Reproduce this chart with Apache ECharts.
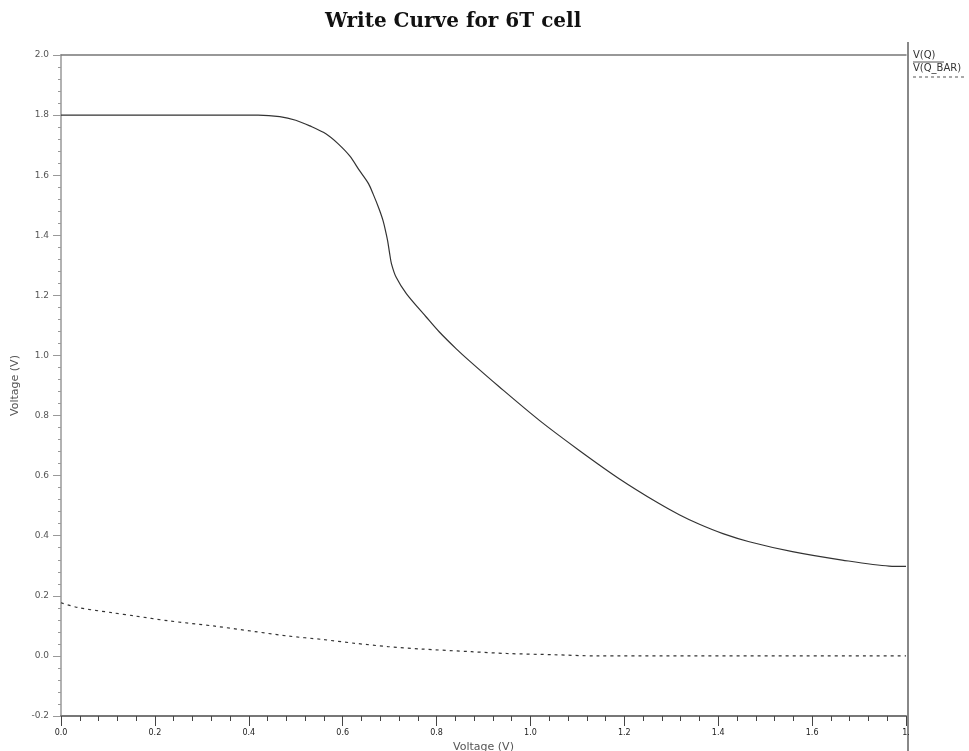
<!DOCTYPE html>
<html>
<head>
<meta charset="utf-8">
<title>Write Curve for 6T cell</title>
<script src="https://cdn.jsdelivr.net/npm/echarts@6/dist/echarts.min.js"></script>
<style>
  html, body { margin: 0; padding: 0; background: #fff; }
  #chart { width: 969px; height: 751px; }
</style>
</head>
<body>
<div id="chart"></div>
<script>
// V(Q) - solid curve
const vqX = [0.0, 0.42, 0.466, 0.50, 0.53, 0.565, 0.59, 0.615, 0.636, 0.655, 0.665, 0.677, 0.686, 0.692,
  0.696, 0.700, 0.704, 0.714, 0.736, 0.778, 0.806, 0.842, 0.870, 0.934, 1.019, 1.104, 1.189, 1.274,
  1.317, 1.36, 1.41, 1.466, 1.558, 1.664, 1.764, 1.80];
const vqY = [1.80, 1.80, 1.795, 1.783, 1.764, 1.737, 1.705, 1.664, 1.615, 1.572, 1.537, 1.49, 1.449, 1.41,
  1.38, 1.34, 1.305, 1.26, 1.205, 1.128, 1.078, 1.022, 0.982, 0.895, 0.784, 0.684, 0.590, 0.507,
  0.470, 0.438, 0.407, 0.380, 0.347, 0.319, 0.299, 0.298];

// V(Q_BAR) - dashed curve
const vqbX = [0.0, 0.036, 0.108, 0.157, 0.228, 0.328, 0.413, 0.484, 0.555, 0.626, 0.696, 0.767,
  0.874, 0.95, 1.05, 1.14, 1.80];
const vqbY = [0.177, 0.161, 0.144, 0.133, 0.117, 0.099, 0.081, 0.066, 0.055, 0.042, 0.031, 0.023,
  0.014, 0.008, 0.004, 0.0, 0.0];

const xTickLabels = ['0.0', '0.2', '0.4', '0.6', '0.8', '1.0', '1.2', '1.4', '1.6', '1.'];
const yTickLabels = ['-0.2', '0.0', '0.2', '0.4', '0.6', '0.8', '1.0', '1.2', '1.4', '1.6', '1.8', '2.0'];

const zip = (xs, ys) => xs.map((x, i) => [x, ys[i]]);

const chart = echarts.init(document.getElementById('chart'));

chart.setOption({
  animation: false,
  backgroundColor: '#fff',
  title: {
    text: 'Write Curve for 6T cell',
    left: 320,
    top: 7,
    textStyle: {
      fontFamily: 'DejaVu Serif',
      fontWeight: 'bold',
      fontSize: 20,
      color: '#111',
    },
  },
  grid: {
    left: 61,
    right: 63,
    top: 55,
    bottom: 35,
    outerBoundsMode: 'none',
    containLabel: false,
  },
  xAxis: [
    {
      type: 'value',
      min: 0,
      max: 1.8,
      interval: 0.2,
      name: 'Voltage (V)',
      nameLocation: 'middle',
      nameGap: 26,
      nameMoveOverlap: false,
      nameTextStyle: { fontFamily: 'DejaVu Sans', fontSize: 11, color: '#555' },
      axisLine: { onZero: false, lineStyle: { color: '#777', width: 2 } },
      axisTick: { length: 10, lineStyle: { color: '#444' } },
      minorTick: { show: true, splitNumber: 5, length: 5, lineStyle: { color: '#444' } },
      splitLine: { show: false },
      axisLabel: {
        margin: 13,
        fontFamily: 'DejaVu Sans',
        fontSize: 8,
        color: '#222',
        formatter: (v) => xTickLabels[Math.round(v / 0.2)],
      },
    },
    {
      // top frame line
      type: 'value',
      position: 'top',
      min: 0,
      max: 1.8,
      axisLine: { show: true, onZero: false, lineStyle: { color: '#777', width: 1.5 } },
      axisTick: { show: false },
      axisLabel: { show: false },
      splitLine: { show: false },
    },
  ],
  yAxis: {
    type: 'value',
    min: -0.2,
    max: 2.0,
    interval: 0.2,
    name: 'Voltage (V)',
    nameLocation: 'middle',
    nameGap: 38,
    nameTextStyle: { fontFamily: 'DejaVu Sans', fontSize: 11, color: '#555' },
    axisLine: { show: true, onZero: false, lineStyle: { color: '#999', width: 1.5 } },
    axisTick: { show: true, length: 8, lineStyle: { color: '#999' } },
    minorTick: { show: true, splitNumber: 5, length: 3, lineStyle: { color: '#999' } },
    splitLine: { show: false },
    axisLabel: {
      margin: 12,
      fontFamily: 'DejaVu Sans',
      fontSize: 9,
      color: '#555',
      formatter: (v) => yTickLabels[Math.round((v + 0.2) / 0.2)],
    },
  },
  series: [
    {
      name: 'V(Q)',
      type: 'line',
      data: zip(vqX, vqY),
      smooth: 0.3,
      showSymbol: false,
      lineStyle: { color: '#333', width: 1.2 },
    },
    {
      name: 'V(Q_BAR)',
      type: 'line',
      data: zip(vqbX, vqbY),
      smooth: 0.3,
      showSymbol: false,
      lineStyle: { color: '#333', width: 1.2, type: [3, 4] },
    },
  ],
  graphic: [
    /* separator on the right of the plot */
    {
      type: 'line',
      shape: { x1: 908, y1: 42, x2: 908, y2: 751 },
      style: { stroke: '#888', lineWidth: 2 },
    },
    /* legend, text above its line sample */
    {
      type: 'text',
      left: 913,
      top: 50,
      style: { text: 'V(Q)', fontFamily: 'DejaVu Sans', fontSize: 10, fill: '#333' },
    },
    {
      type: 'line',
      shape: { x1: 913, y1: 62, x2: 944, y2: 62 },
      style: { stroke: '#555', lineWidth: 1 },
    },
    {
      type: 'text',
      left: 913,
      top: 63,
      style: { text: 'V(Q_BAR)', fontFamily: 'DejaVu Sans', fontSize: 10, fill: '#333' },
    },
    {
      type: 'line',
      shape: { x1: 913, y1: 77, x2: 965, y2: 77 },
      style: { stroke: '#555', lineWidth: 1, lineDash: [3, 3] },
    },
  ],
});
</script>
</body>
</html>
